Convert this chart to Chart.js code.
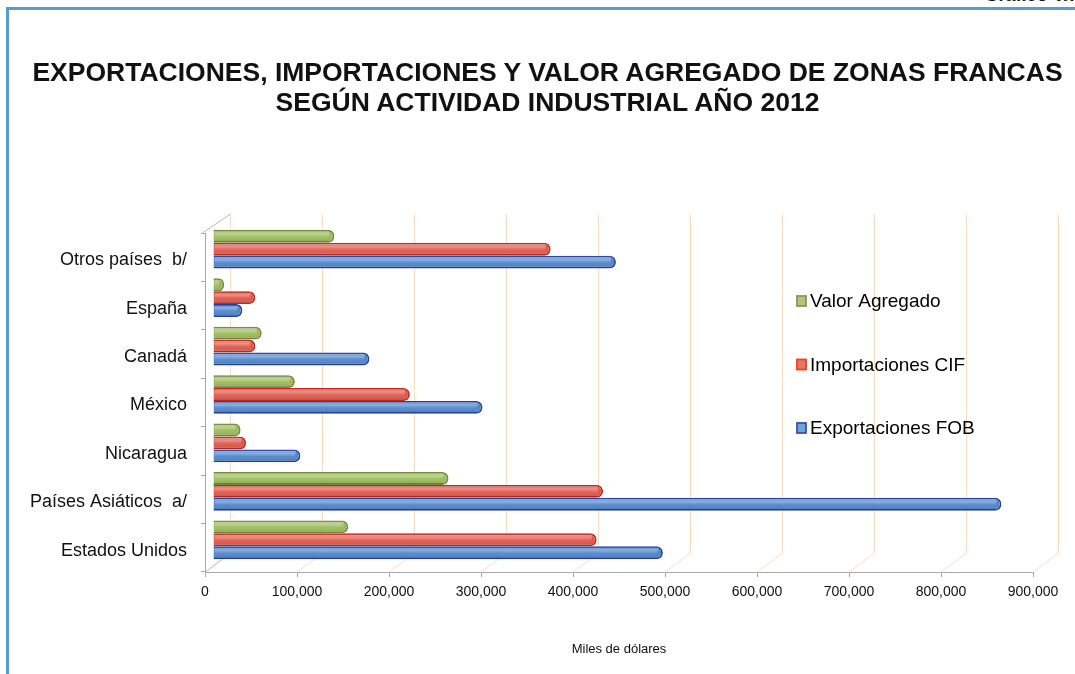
<!DOCTYPE html>
<html lang="es">
<head>
<meta charset="utf-8">
<title>Zonas francas 2012</title>
<script src="https://cdn.jsdelivr.net/npm/chart.js@4.4.1/dist/chart.umd.min.js"></script>
<style>
    html, body { margin: 0; padding: 0; background: #fff; overflow: hidden; }
    #page { position: relative; width: 1075px; height: 674px; font-family: "Liberation Sans", Arial, sans-serif; }
    #frame { position: absolute; left: 6px; top: 7px; width: 1075px; height: 700px; border-top: 3px solid #5a9bcf; border-left: 3px solid #5a9bcf; }
    #graficoNum { position: absolute; right: -8px; top: -15px; font-size: 18px; font-weight: bold; color: #111; }
    #chartTitle { position: absolute; left: 0; top: 57px; width: 1095px; text-align: center; font-size: 26.5px; font-weight: bold; line-height: 30px; color: #111; }
    canvas { position: absolute; left: 0; top: 0; }
</style>
</head>
<body>
<div id="page">
    <div id="frame"></div>
    <div id="graficoNum">Gráfico V.7.</div>
    <canvas id="zonasChart" width="1075" height="674"></canvas>
    <div id="chartTitle">EXPORTACIONES, IMPORTACIONES Y VALOR AGREGADO DE ZONAS FRANCAS<br>SEGÚN ACTIVIDAD INDUSTRIAL AÑO 2012</div>
</div>
<script>
// ============================== DATA ==============================
const paises = ['Otros países  b/', 'España', 'Canadá', 'México', 'Nicaragua', 'Países Asiáticos  a/', 'Estados Unidos'];
const valorAgregado = [132000, 12000, 53000, 89000, 30000, 256000, 147000];
const importacionesCIF = [367000, 46000, 46000, 214000, 36000, 424000, 417000];
const exportacionesFOB = [438000, 32000, 170000, 293000, 95000, 857000, 489000];
const xTicks = [0, 100000, 200000, 300000, 400000, 500000, 600000, 700000, 800000, 900000];

// ============================== 3D look (Common Functions) ==============================
const depth = { dx: 25, dy: -19 };   // back wall offset
const barShift = { dx: 8, dy: -8 };  // bars sit half way into the depth

const legendStyle = [
    { fill: '#a9c878', border: '#a5875a' },
    { fill: '#e2786a', border: '#ff3a10' },
    { fill: '#6aa6d8', border: '#3f4fb0' }
];

const wallPlugin = {
    id: 'wall',
    beforeDatasetsDraw(chart) {
        const ctx = chart.ctx;
        const area = chart.chartArea;
        const xs = chart.scales.x;
        ctx.save();
        ctx.lineWidth = 1;
        // back grid lines + floor diagonals
        xTicks.forEach((v, i) => {
            const x = Math.round(xs.getPixelForValue(v)) + 0.5;
            ctx.strokeStyle = i === 0 ? '#b8b8b8' : '#f9dcc2';
            ctx.beginPath();
            ctx.moveTo(x, area.bottom);
            ctx.lineTo(x + depth.dx, area.bottom + depth.dy);
            ctx.stroke();
            ctx.strokeStyle = '#f9dcc2';
            ctx.beginPath();
            ctx.moveTo(x + depth.dx, area.bottom + depth.dy);
            ctx.lineTo(x + depth.dx, area.top + depth.dy);
            ctx.stroke();
        });
        // top-left edge of the wall
        const x0 = Math.round(area.left) + 0.5;
        ctx.strokeStyle = '#b8b8b8';
        ctx.beginPath();
        ctx.moveTo(x0 - 3, area.top);
        ctx.lineTo(x0 + depth.dx, area.top + depth.dy);
        ctx.stroke();
        ctx.restore();

        // move the bars into the depth
        ctx.save();
        ctx.translate(barShift.dx, barShift.dy);
    },
    afterDatasetsDraw(chart) {
        const ctx = chart.ctx;
        // cylinder shading on every bar
        chart.data.datasets.forEach((ds, i) => {
            chart.getDatasetMeta(i).data.forEach(bar => {
                const p = bar.getProps(['x', 'y', 'base', 'height'], true);
                const top = p.y - p.height / 2;
                const g = ctx.createLinearGradient(0, top, 0, top + p.height);
                g.addColorStop(0, 'rgba(255,255,255,0.05)');
                g.addColorStop(0.3, 'rgba(255,255,255,0.35)');
                g.addColorStop(0.55, 'rgba(255,255,255,0.05)');
                g.addColorStop(1, 'rgba(0,0,0,0.18)');
                ctx.fillStyle = g;
                ctx.fillRect(p.base + 1, top + 1, Math.max(0, p.x - p.base - 6), p.height - 2);
            });
        });
        ctx.restore();
    },
    afterDraw(chart) {
        // legend drawn over the plot, right side
        const ctx = chart.ctx;
        ctx.save();
        ctx.font = '19px "Liberation Sans", Arial, sans-serif';
        ctx.textBaseline = 'middle';
        chart.data.datasets.forEach((ds, i) => {
            const y = 301 + i * 63.5;
            ctx.fillStyle = legendStyle[i].fill;
            ctx.strokeStyle = legendStyle[i].border;
            ctx.lineWidth = 1.8;
            ctx.fillRect(797, y - 5, 9, 10);
            ctx.strokeRect(797, y - 5, 9, 10);
            ctx.fillStyle = '#000';
            ctx.fillText(ds.label, 810, y + 1);
        });
        ctx.restore();
    }
};

function createChart() {
    const ctx = document.getElementById('zonasChart').getContext('2d');
    return new Chart(ctx, {
        type: 'bar',
        data: {
            labels: paises,
            datasets: [
                { label: 'Valor Agregado', data: valorAgregado, backgroundColor: '#9bbb59', borderColor: '#71893f' },
                { label: 'Importaciones CIF', data: importacionesCIF, backgroundColor: '#e0584a', borderColor: '#c0281c' },
                { label: 'Exportaciones FOB', data: exportacionesFOB, backgroundColor: '#4f86cc', borderColor: '#2a3f9c' }
            ]
        },
        options: {
            indexAxis: 'y',
            responsive: false,
            animation: false,
            layout: { padding: { left: 0, right: 42, top: 233, bottom: 0 } },
            datasets: {
                bar: { categoryPercentage: 0.8, barPercentage: 1.0, borderWidth: 1.8, borderRadius: 6, borderSkipped: 'start' }
            },
            plugins: {
                legend: { display: false },
                tooltip: { enabled: false }
            },
            scales: {
                x: {
                    min: 0, max: 900000,
                    afterFit: s => { s.height = 102; },
                    afterBuildTicks: s => { s.ticks = xTicks.map(v => ({ value: v })); },
                    grid: { drawOnChartArea: false, color: '#a8a8a8', tickLength: 5 },
                    border: { color: '#a8a8a8' },
                    ticks: {
                        padding: 7, color: '#111', maxRotation: 0,
                        font: { family: '"Liberation Sans", Arial, sans-serif', size: 14 },
                        callback: v => v.toLocaleString('en-US')
                    },
                    title: {
                        display: true, text: 'Miles de dólares', color: '#111',
                        font: { family: '"Liberation Sans", Arial, sans-serif', size: 13 },
                        padding: { top: 0, bottom: 17 }
                    }
                },
                y: {
                    afterFit: s => { s.width = 205; },
                    grid: { drawOnChartArea: false, color: '#a8a8a8', tickLength: 4 },
                    border: { color: '#a8a8a8' },
                    ticks: {
                        padding: 14, color: '#111', labelOffset: 3,
                        font: { family: '"Liberation Sans", Arial, sans-serif', size: 18 }
                    }
                }
            }
        },
        plugins: [wallPlugin]
    });
}

// ========================= Initialization ==========================
window.addEventListener('DOMContentLoaded', () => {
    createChart();
});
</script>
</body>
</html>
